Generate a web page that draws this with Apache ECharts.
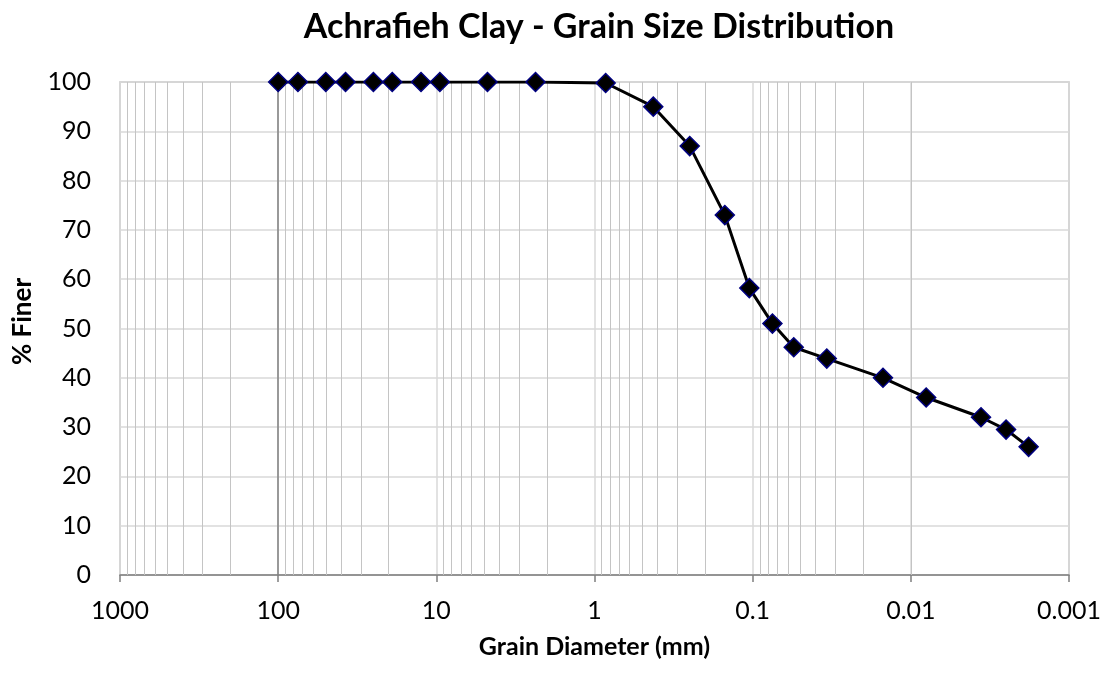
<!DOCTYPE html>
<html>
<head>
<meta charset="utf-8">
<script src="https://cdn.jsdelivr.net/npm/echarts@6/dist/echarts.min.js"></script>
<style>
html,body{margin:0;padding:0;background:#fff;}
#chart{width:1110px;height:677px;}
</style>
</head>
<body>
<div id="chart"></div>
<script>
// Data
const grainDiameter = [100, 75, 50, 37.5, 25, 19, 12.5, 9.5, 4.75, 2.36, 0.85, 0.425, 0.25, 0.15, 0.105, 0.075, 0.055, 0.034, 0.015, 0.008, 0.0036, 0.0025, 0.0018];
const percentFiner = [100, 100, 100, 100, 100, 100, 100, 100, 100, 100, 99.8, 95, 87, 73, 58.2, 51, 46.2, 43.9, 40, 36, 32, 29.5, 26];
const xTickLabels = ['1000', '100', '10', '1', '0.1', '0.01', '0.001'];
const yTicks = [0, 10, 20, 30, 40, 50, 60, 70, 80, 90, 100];
const decades = [0.001, 0.01, 0.1, 1, 10, 100];
const minorMultipliers = [2, 3, 4, 5, 6, 7, 8, 9];

const seriesData = grainDiameter.map((d, i) => [d, percentFiner[i]]);
const minorLines = [];
decades.forEach(d => minorMultipliers.forEach(m => minorLines.push({ xAxis: d * m })));

const FONT = 'Lato, "Open Sans", sans-serif';
const chart = echarts.init(document.getElementById('chart'), null, { renderer: 'canvas' });
chart.setOption({
  animation: false,
  backgroundColor: '#ffffff',
  title: {
    text: 'Achrafieh Clay - Grain Size Distribution',
    left: 594, top: 5, textAlign: 'center',
    textStyle: { fontFamily: FONT, fontSize: 34, fontWeight: 'bold', color: '#000' }
  },
  grid: { left: 120, right: 41, top: 82, bottom: 102, show: true, borderColor: '#bfbfbf', borderWidth: 1.5 },
  xAxis: {
    type: 'log', logBase: 10, inverse: true, min: 0.001, max: 1000,
    name: 'Grain Diameter (mm)', nameLocation: 'middle', nameGap: 59,
    nameTextStyle: { fontFamily: FONT, fontSize: 25, fontWeight: 'bold', color: '#000' },
    axisLine: { show: true, onZero: false, lineStyle: { color: '#7f7f7f', width: 1.5 } },
    axisTick: { show: true, inside: false, length: 7, lineStyle: { color: '#7f7f7f', width: 1.5 } },
    axisLabel: {
      fontFamily: FONT, fontSize: 25, color: '#000', margin: 23,
      formatter: function (v) {
        const k = Math.round(Math.log10(v));
        return xTickLabels[3 - k] !== undefined ? xTickLabels[3 - k] : '';
      }
    },
    splitLine: { show: true, lineStyle: { color: '#d9d9d9', width: 1.5 } },
    minorTick: { show: false }, minorSplitLine: { show: false }
  },
  yAxis: {
    type: 'value', min: yTicks[0], max: yTicks[yTicks.length - 1], interval: 10,
    name: '% Finer', nameLocation: 'middle', nameGap: 84, nameRotate: 90,
    nameTextStyle: { fontFamily: FONT, fontSize: 26, fontWeight: 'bold', color: '#000', padding: [0, 0, 0, 14] },
    axisLine: { show: false },
    axisTick: { show: false },
    axisLabel: { fontFamily: FONT, fontSize: 25, color: '#000', margin: 29 },
    splitLine: { show: true, lineStyle: { color: '#d9d9d9', width: 1.5 } }
  },
  series: [
    {
      type: 'line', data: [], silent: true,
      markLine: {
        silent: true, symbol: 'none', label: { show: false },
        lineStyle: { color: '#c4c4c4', width: 1, type: 'solid' },
        data: minorLines, animation: false
      }
    },
    {
      type: 'line', data: [], silent: true,
      markLine: {
        silent: true, symbol: 'none', label: { show: false },
        lineStyle: { color: '#808080', width: 1.5, type: 'solid' },
        data: [{ xAxis: 100 }], animation: false
      }
    },
    {
      type: 'line', data: seriesData,
      lineStyle: { color: '#000', width: 3 },
      symbol: 'diamond', symbolSize: 19,
      itemStyle: { color: '#000', borderColor: '#000080', borderWidth: 1.5 },
      z: 5
    }
  ]
});
</script>
</body>
</html>
